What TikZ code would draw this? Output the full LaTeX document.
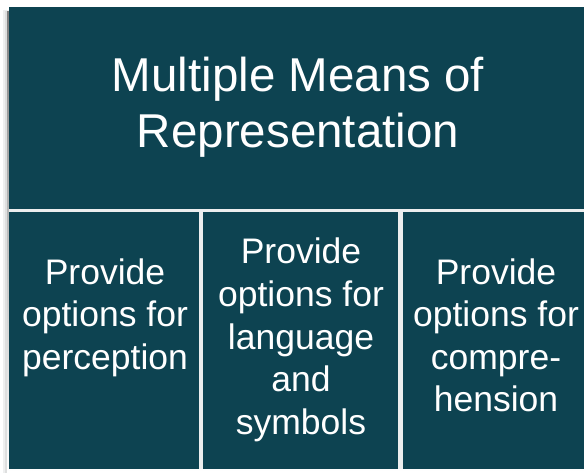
\documentclass[tikz,border=0pt]{standalone}
\usepackage{fontspec}
\setmainfont{Liberation Sans}
\definecolor{teal}{RGB}{13,67,81}
\definecolor{gapc}{RGB}{236,238,238}
\definecolor{shade}{RGB}{200,202,202}
\tikzset{
  panel/.style={fill=teal, draw=none},
  ttl/.style={text=white, anchor=base, inner sep=0pt, font=\fontsize{47.5}{57}\selectfont},
  lbl/.style={text=white, anchor=base, inner sep=0pt, font=\fontsize{35.5}{42.6}\selectfont},
}
\begin{document}
\begin{tikzpicture}[x=1pt,y=-1pt]
\useasboundingbox (0,0) rectangle (584,473);
\fill[white] (0,0) rectangle (584,473);
% soft shadow
\fill[shade!30] (3,10) rectangle (584,473);
\fill[shade!60] (5,11) rectangle (584,473);
\fill[shade] (7,12) rectangle (584,472);
% gaps
\fill[gapc] (9,7) rectangle (584,469);
% panels
\path[panel] (9,7) rectangle (584,209);
\path[panel] (9,212) rectangle (199,469);
\path[panel] (203,212) rectangle (398,469);
\path[panel] (403,212) rectangle (584,469);
% title
\node[ttl] (t1) at (298,92) {Multiple Means of};
\node[ttl] (t2) at (298,148) {Representation};
% left
\node[lbl] (a1) at (105,284) {Provide};
\node[lbl] (a2) at (105,326.5) {options for};
\node[lbl] (a3) at (105,369) {perception};
% middle
\node[lbl] (b1) at (301,264) {Provide};
\node[lbl] (b2) at (301,306.5) {options for};
\node[lbl] (b3) at (301,349) {language};
\node[lbl] (b4) at (301,391.5) {and};
\node[lbl] (b5) at (301,434) {symbols};
% right
\node[lbl] (c1) at (496,284) {Provide};
\node[lbl] (c2) at (496,326.5) {options for};
\node[lbl] (c3) at (496,369) {compre-};
\node[lbl] (c4) at (496,411.5) {hension};
\end{tikzpicture}
\end{document}
